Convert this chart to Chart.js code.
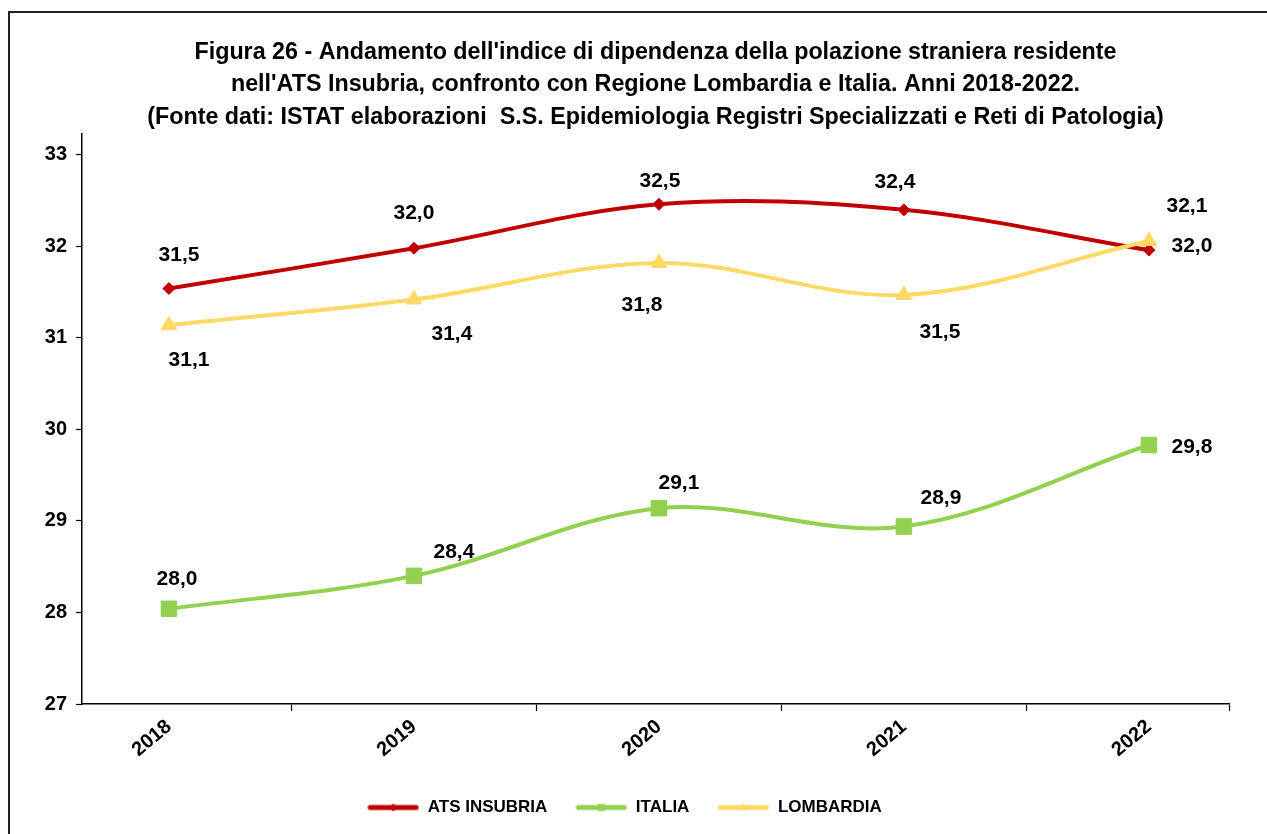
<!DOCTYPE html>
<html lang="it">
<head>
<meta charset="utf-8">
<title>Figura 26 - Indice di dipendenza</title>
<script src="https://cdn.jsdelivr.net/npm/chart.js@4.4.1/dist/chart.umd.min.js"></script>
<style>
    html, body { margin: 0; padding: 0; background: #fff; overflow: hidden; }
    .frame {
        position: absolute; left: 8px; top: 11px;
        width: 1400px; height: 1000px;
        border-top: 2px solid #222; border-left: 2px solid #222;
    }
    .chart-box { position: absolute; left: 0; top: 0; width: 1267px; height: 834px; }
</style>
</head>
<body>
<div class="frame"></div>
<div class="chart-box"><canvas id="dipendenzaChart"></canvas></div>
<script>
// Chart data
const years = [2018, 2019, 2020, 2021, 2022];
const atsInsubria = [31.54, 31.98, 32.46, 32.40, 31.96];
const italia = [28.04, 28.40, 29.14, 28.94, 29.83];
const lombardia = [31.14, 31.42, 31.82, 31.47, 32.06];
const yTicks = [27, 28, 29, 30, 31, 32, 33];
const seriesNames = ['ATS INSUBRIA', 'ITALIA', 'LOMBARDIA'];
const titleLines = [
    "Figura 26 - Andamento dell'indice di dipendenza della polazione straniera residente",
    "nell'ATS Insubria, confronto con Regione Lombardia e Italia. Anni 2018-2022.",
    "(Fonte dati: ISTAT elaborazioni  S.S. Epidemiologia Registri Specializzati e Reti di Patologia)"
];

// Where each value label sits relative to its point [dx, dy]
const atsLabelOffsets = [[10, -33], [0, -35], [1, -23], [-9, -28], [43, -4]];
const italiaLabelOffsets = [[8, -30], [40, -24], [20, -25], [37, -28], [43, 2]];
const lombardiaLabelOffsets = [[20, 35], [38, 35], [-17, 42], [36, 37], [38, -35]];
const labelOffsets = [atsLabelOffsets, italiaLabelOffsets, lombardiaLabelOffsets];

const RED = '#C00000';
const GREEN = '#92D050';
const YELLOW = '#FFD966';
const FONT = '"Liberation Sans", Arial, sans-serif';

Chart.defaults.font.family = FONT;
Chart.defaults.color = '#000';

function toPoints(values) {
    return values.map((v, i) => ({ x: years[i], y: v }));
}

// small line + marker image for the legend
function legendSwatch(color, style, radius) {
    const c = document.createElement('canvas');
    c.width = 52;
    c.height = 14;
    const g = c.getContext('2d');
    g.strokeStyle = color;
    g.lineWidth = 5;
    g.lineCap = 'round';
    g.beginPath();
    g.moveTo(3, 7);
    g.lineTo(49, 7);
    g.stroke();
    g.fillStyle = color;
    Chart.helpers.drawPoint(g, { pointStyle: style, radius: radius, borderWidth: 0 }, 26, 7);
    return c;
}

// Draw the value labels next to every point
const valueLabels = {
    id: 'valueLabels',
    afterDatasetsDraw(chart) {
        const ctx = chart.ctx;
        ctx.save();
        ctx.font = 'bold 21px ' + FONT;
        ctx.fillStyle = '#000';
        ctx.textAlign = 'center';
        ctx.textBaseline = 'middle';
        chart.data.datasets.forEach((ds, i) => {
            const offsets = labelOffsets[i];
            chart.getDatasetMeta(i).data.forEach((pt, j) => {
                const text = ds.data[j].y.toFixed(1).replace('.', ',');
                ctx.fillText(text, pt.x + offsets[j][0], pt.y + offsets[j][1]);
            });
        });
        ctx.restore();
    }
};

document.addEventListener('DOMContentLoaded', () => {
    const swatches = [
        legendSwatch(RED, 'rectRot', 4),
        legendSwatch(GREEN, 'rect', 5),
        legendSwatch(YELLOW, 'triangle', 5)
    ];

    // tick marks sit between the years, labels sit on the years
    const xMin = 2017.645;
    const xMax = 2022.327;
    const xTicks = [];
    years.forEach((y, i) => {
        xTicks.push({ value: y });
        if (i < years.length - 1) xTicks.push({ value: y + 0.5 });
    });
    xTicks.push({ value: xMax });

    new Chart(document.getElementById('dipendenzaChart'), {
        type: 'line',
        data: {
            datasets: [
                {
                    label: seriesNames[0],
                    data: toPoints(atsInsubria),
                    borderColor: RED,
                    backgroundColor: RED,
                    pointStyle: 'rectRot',
                    pointRadius: 6,
                    order: 1
                },
                {
                    label: seriesNames[1],
                    data: toPoints(italia),
                    borderColor: GREEN,
                    backgroundColor: GREEN,
                    pointStyle: 'rect',
                    pointRadius: 11,
                    order: 2
                },
                {
                    label: seriesNames[2],
                    data: toPoints(lombardia),
                    borderColor: YELLOW,
                    backgroundColor: YELLOW,
                    pointStyle: 'triangle',
                    pointRadius: 9,
                    order: 0
                }
            ]
        },
        options: {
            responsive: true,
            maintainAspectRatio: false,
            animation: false,
            elements: {
                line: { borderWidth: 4, tension: 0.35, fill: false },
                point: { borderWidth: 1, hoverRadius: 8 }
            },
            layout: { padding: { left: 20, right: 38, top: 0, bottom: 8 } },
            plugins: {
                title: {
                    display: true,
                    text: titleLines,
                    fullSize: false,
                    color: '#000',
                    font: { size: 23.3, weight: 'bold', lineHeight: 1.4 },
                    padding: { top: 36, bottom: 0 }
                },
                legend: {
                    position: 'bottom',
                    labels: {
                        usePointStyle: true,
                        pointStyleWidth: 52,
                        boxHeight: 14,
                        padding: 28,
                        color: '#000',
                        font: { size: 17, weight: 'bold' },
                        generateLabels: (chart) => chart.data.datasets.map((ds, i) => ({
                            text: ds.label,
                            pointStyle: swatches[i],
                            fillStyle: ds.borderColor,
                            strokeStyle: ds.borderColor,
                            lineWidth: 0,
                            fontColor: '#000',
                            hidden: false,
                            datasetIndex: i
                        }))
                    }
                },
                tooltip: { enabled: false }
            },
            scales: {
                x: {
                    type: 'linear',
                    min: xMin,
                    max: xMax,
                    afterBuildTicks: (scale) => { scale.ticks = xTicks.slice(); },
                    afterFit: (scale) => { scale.height = 67; },
                    border: { color: '#000', width: 1.5 },
                    grid: {
                        drawOnChartArea: false,
                        tickLength: 7,
                        tickWidth: 1.2,
                        tickColor: (ctx) => Number.isInteger(ctx.tick.value) ? 'rgba(0,0,0,0)' : '#000'
                    },
                    ticks: {
                        autoSkip: false,
                        minRotation: 40,
                        maxRotation: 40,
                        padding: 4,
                        color: '#000',
                        font: { size: 20, weight: 'bold' },
                        callback: (value) => Number.isInteger(value) ? String(value) : ''
                    }
                },
                y: {
                    min: 27,
                    max: 33.23,
                    afterBuildTicks: (scale) => { scale.ticks = yTicks.map(v => ({ value: v })); },
                    afterFit: (scale) => { scale.width = 62; },
                    border: { color: '#000', width: 1.5 },
                    grid: { drawOnChartArea: false, tickLength: 6, tickWidth: 1.2, tickColor: '#000' },
                    ticks: {
                        padding: 9,
                        color: '#000',
                        font: { size: 20, weight: 'bold' }
                    }
                }
            }
        },
        plugins: [valueLabels]
    });
});
</script>
</body>
</html>
